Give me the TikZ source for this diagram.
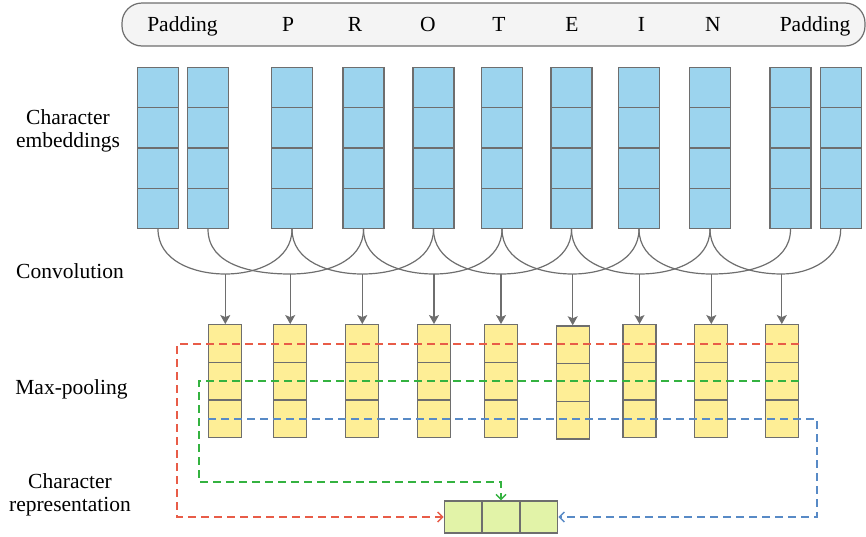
\documentclass[tikz,border=0pt]{standalone}
\usepackage{fontspec}
\setmainfont{Liberation Serif}
\usetikzlibrary{arrows.meta}
\definecolor{cellblue}{RGB}{156,212,238}
\definecolor{cellyellow}{RGB}{254,238,150}
\definecolor{cellgreen}{RGB}{226,243,168}
\definecolor{edgegray}{RGB}{110,110,110}
\definecolor{barfill}{RGB}{244,244,244}
\definecolor{dred}{RGB}{232,92,72}
\definecolor{dgreen}{RGB}{52,178,64}
\definecolor{dblue}{RGB}{88,138,198}
\begin{document}
\begin{tikzpicture}[x=1pt,y=-1pt,
  txt/.style={font=\fontsize{21.5}{23}\selectfont, inner sep=0pt},
  bar/.style={draw=edgegray, fill=barfill, line width=1.2pt, rounded corners=20pt,
    minimum width=743pt, minimum height=43pt, inner sep=0pt},
  bcell/.style={draw=edgegray, fill=cellblue, line width=1.3pt, minimum width=41pt,
    minimum height=40.3pt, inner sep=0pt},
  ycell/.style={draw=edgegray, fill=cellyellow, line width=1.3pt, minimum width=33pt,
    minimum height=37.7pt, inner sep=0pt},
  gcell/.style={draw=edgegray, fill=cellgreen, line width=1.3pt, minimum width=37.8pt,
    minimum height=32pt, inner sep=0pt},
  conv/.style={draw=edgegray, line width=1.2pt},
  convarrow/.style={draw=edgegray, line width=1.2pt, -{Stealth[length=9pt,width=10pt,inset=2pt]}},
  dashline/.style={line width=1.4pt, dash pattern=on 8pt off 5pt,
    -{Straight Barb[length=5pt,width=10pt]}}
]
\useasboundingbox (0,0) rectangle (866,536);

% top bar with characters
\node[bar] (bar) at (493.5,24.5) {};
\foreach \x/\t [count=\i] in {182.5/Padding,288/P,355/R,428/O,499/T,572/E,641.5/I,713/N,815/Padding}
  \node[txt, anchor=base] (ch\i) at (\x,31) {\t};

% character embeddings (blue)
\foreach \x [count=\i] in {158,208,292,363.5,433.5,502,571.5,639,710,790.5,840.7}
  \foreach \k in {1,...,4}
    \node[bcell] (b\i-\k) at (\x,{67.3+40.3*(\k-0.5)}) {};

% max-pooling columns (yellow)
\foreach \x/\top [count=\j] in {225.3/324.7,290.2/324.7,362.3/324.7,434/324.7,501/324.7,572.7/325.9,639.5/324.7,711.3/324.7,781.8/324.7}{
  \foreach \k in {1,...,3}
    \node[ycell] (y\j-\k) at (\x,{\top+37.7*(\k-0.5)}) {};
  \coordinate (k\j) at (\x,274);
  \draw[convarrow] (k\j) -- (y\j-1.north);
}

% convolution curves
\foreach \c in {1,...,9}
  \draw[conv] (b\c-4.south) to[out=-90,in=180] (k\c);
\foreach \c [evaluate=\c as \o using int(\c-2)] in {3,...,11}
  \draw[conv] (b\c-4.south) to[out=-90,in=0] (k\o);

% character representation (green)
\node[gcell] (g1) at (463.2,517) {};
\node[gcell] (g2) at (501,517) {};
\node[gcell] (g3) at (538.8,517) {};

% dashed routes
\coordinate (rlev) at (0,344);
\coordinate (glev) at (0,381);
\coordinate (blev) at (0,419);
\coordinate (rc) at (177,517);
\coordinate (gc) at (199,482);
\coordinate (bc) at (817,517);
\draw[dashline, dred] (y9-1.east |- rlev) -| (rc) -- (g1.west);
\draw[dashline, dgreen] (y9-2.east |- glev) -| (gc) -| (g2.north);
\draw[dashline, dblue] (y1-3.west |- blev) -| (bc) -- (g3.east);

% row labels
\node[txt, align=center] (lemb) at (68,131) {Character\\embeddings};
\node[txt, anchor=base] (lconv) at (70,278.5) {Convolution};
\node[txt, anchor=base] (lmax) at (71.5,394) {Max-pooling};
\node[txt, align=center] (lrep) at (70,495) {Character\\representation};
\end{tikzpicture}
\end{document}
